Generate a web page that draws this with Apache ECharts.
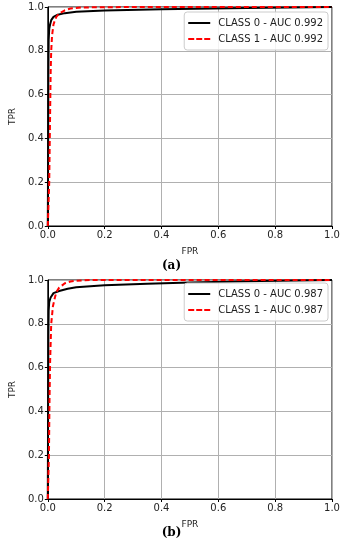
<!DOCTYPE html>
<html><head><meta charset="utf-8">
<script src="https://cdn.jsdelivr.net/npm/echarts@6/dist/echarts.min.js"></script>
<style>html,body{margin:0;padding:0;background:#fff}#c{width:343px;height:550px}</style>
</head><body><div id="c"></div>
<script>
const xTicks = [0.0, 0.2, 0.4, 0.6, 0.8, 1.0];
const yTicks = [0.0, 0.2, 0.4, 0.6, 0.8, 1.0];
const panelLabels = ['(a)', '(b)'];
const namesA = ['CLASS 0 - AUC 0.992', 'CLASS 1 - AUC 0.992'];
const namesB = ['CLASS 0 - AUC 0.987', 'CLASS 1 - AUC 0.987'];
// Panel (a)
const fprA0 = [0, 0.001, 0.002, 0.003, 0.005, 0.008, 0.012, 0.02, 0.035, 0.06, 0.1, 0.2, 0.4, 0.7, 1.0];
const tprA0 = [0, 0.3, 0.7, 0.85, 0.9, 0.92, 0.94, 0.955, 0.965, 0.972, 0.978, 0.984, 0.99, 0.995, 1.0];
const fprA1 = [0, 0.005, 0.008, 0.01, 0.012, 0.015, 0.02, 0.025, 0.03, 0.04, 0.06, 0.08, 0.12, 0.3, 1.0];
const tprA1 = [0, 0.2, 0.5, 0.7, 0.8, 0.87, 0.92, 0.94, 0.955, 0.97, 0.985, 0.993, 0.998, 1.0, 1.0];
// Panel (b)
const fprB0 = [0, 0.001, 0.002, 0.003, 0.005, 0.01, 0.02, 0.04, 0.07, 0.1, 0.2, 0.35, 0.5, 0.75, 1.0];
const tprB0 = [0, 0.4, 0.75, 0.86, 0.9, 0.92, 0.94, 0.95, 0.96, 0.967, 0.976, 0.983, 0.989, 0.995, 1.0];
const fprB1 = [0, 0.004, 0.006, 0.008, 0.012, 0.018, 0.025, 0.03, 0.04, 0.06, 0.08, 0.1, 0.15, 0.3, 1.0];
const tprB1 = [0, 0.2, 0.45, 0.62, 0.8, 0.88, 0.92, 0.945, 0.965, 0.985, 0.993, 0.997, 1.0, 1.0, 1.0];

const zip = (a, b) => a.map((v, i) => [v, b[i]]);
const font = 'DejaVu Sans';
const solidIcon = 'path://M0,0H22V2H0Z';
const dashIcon = 'path://M0,0H6V2H0Z M8,0H14V2H8Z M16,0H22V2H16Z';
const grids = [
  {left: 37, width: 295, top: 7, height: 219},
  {left: 37, width: 295, top: 280, height: 219}
];
function xAxis(i){
  return {gridIndex: i, type: 'value', min: 0, max: 1, interval: 0.2,
    name: 'FPR', nameLocation: 'middle', nameGap: 21,
    nameTextStyle: {fontFamily: font, fontSize: 9, color: '#222'},
    axisLine: {show: true, lineStyle: {color: '#000', width: 1}},
    axisTick: {show: true, length: 3, lineStyle: {color: '#000'}},
    axisLabel: {fontFamily: font, fontSize: 10, color: '#222', margin: 4, formatter: v => v.toFixed(1)},
    splitLine: {show: true, lineStyle: {color: '#b0b0b0', width: 1}}};
}
function yAxis(i){
  return {gridIndex: i, type: 'value', min: 0, max: 1, interval: 0.2,
    name: 'TPR', nameLocation: 'middle', nameGap: 25,
    nameTextStyle: {fontFamily: font, fontSize: 9, color: '#222'},
    axisLine: {show: true, lineStyle: {color: '#000', width: 1}},
    axisTick: {show: true, length: 3, lineStyle: {color: '#000'}},
    axisLabel: {fontFamily: font, fontSize: 10, color: '#222', margin: 4, formatter: v => v.toFixed(1)},
    splitLine: {show: true, lineStyle: {color: '#b0b0b0', width: 1}}};
}
function line(name, data, i, dashed){
  return {name, type: 'line', xAxisIndex: i, yAxisIndex: i, data, showSymbol: false, symbol: 'none',
    smooth: false, animation: false,
    lineStyle: {color: dashed ? '#ff0000' : '#000', width: 2, type: dashed ? [5, 3] : 'solid'},
    itemStyle: {color: dashed ? '#ff0000' : '#000'}};
}
function legend(names, top){
  return {data: [{name: names[0], icon: solidIcon}, {name: names[1], icon: dashIcon}],
    right: 15, top: top, orient: 'vertical', itemWidth: 22, itemHeight: 2, itemGap: 6,
    padding: [6, 5, 6, 4], backgroundColor: 'rgba(255,255,255,0.85)', borderColor: '#ccc', borderWidth: 1, borderRadius: 3,
    textStyle: {fontFamily: font, fontSize: 10, color: '#222', padding: [0, 0, 0, 3]}};
}
const chart = echarts.init(document.getElementById('c'), null, {renderer: 'canvas'});
chart.setOption({
  animation: false,
  grid: grids.map(g => Object.assign({show: true, borderColor: '#000', borderWidth: 1, backgroundColor: 'transparent'}, g)),
  xAxis: [xAxis(0), xAxis(1)],
  yAxis: [yAxis(0), yAxis(1)],
  legend: [legend(namesA, 12), legend(namesB, 283)],
  title: [
    {text: panelLabels[0], left: 'center', top: 260, padding: 0, textStyle: {fontFamily: 'DejaVu Serif', fontWeight: 'bold', fontSize: 12, color: '#000'}},
    {text: panelLabels[1], left: 'center', top: 527, padding: 0, textStyle: {fontFamily: 'DejaVu Serif', fontWeight: 'bold', fontSize: 12, color: '#000'}}
  ],
  series: [
    line(namesA[0], zip(fprA0, tprA0), 0, false),
    line(namesA[1], zip(fprA1, tprA1), 0, true),
    line(namesB[0], zip(fprB0, tprB0), 1, false),
    line(namesB[1], zip(fprB1, tprB1), 1, true)
  ]
});
</script></body></html>
